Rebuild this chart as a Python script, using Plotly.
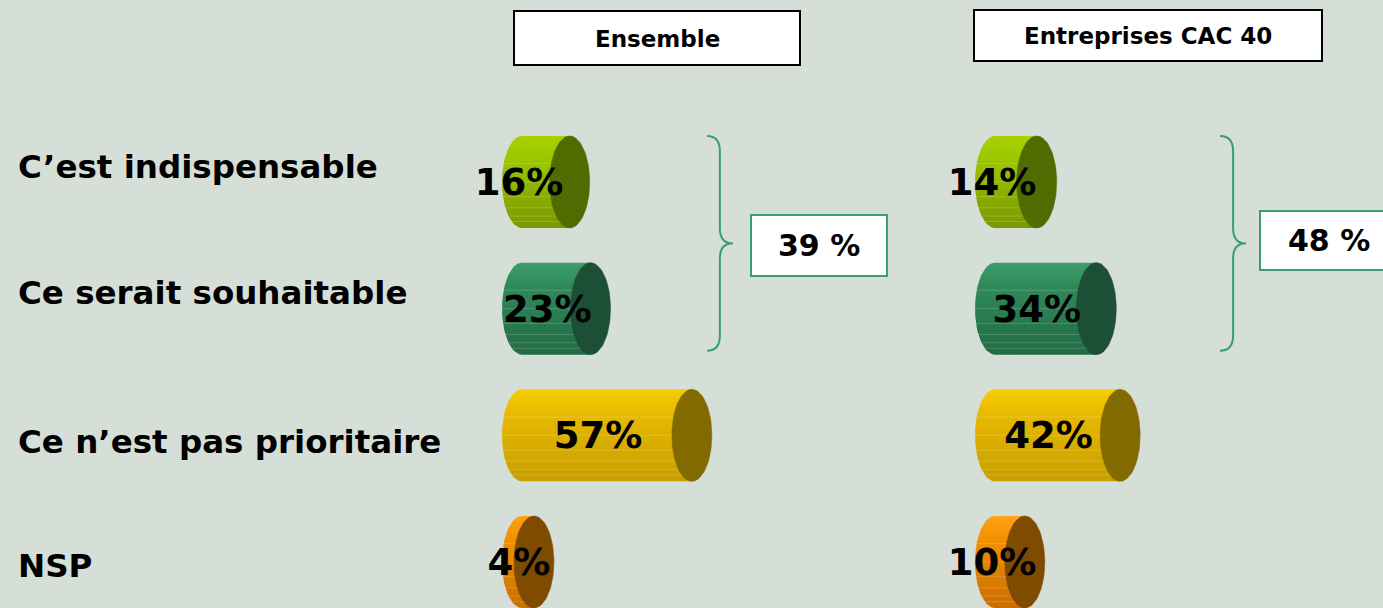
import numpy as np
import plotly.graph_objects as go

# ---------------- data ----------------
categories = ["C’est indispensable", "Ce serait souhaitable", "Ce n’est pas prioritaire", "NSP"]
ensemble = [16, 23, 57, 4]
cac40 = [14, 34, 42, 10]
panel_titles = ["Ensemble", "Entreprises CAC 40"]
group_totals = [39, 48]  # indispensable + souhaitable

# ---------------- styles ----------------
BG = "#D6DED8"
FONT = "DejaVu Sans"
body_colors = [  # (top, light, bottom) for the cylinder bodies
    ("#A9D000", "#9CC600", "#7A9800"),
    ("#3C9E6A", "#2F8A5A", "#236B45"),
    ("#F7CC00", "#E8BA00", "#C79E00"),
    ("#FFA214", "#F39000", "#C96F00"),
]
end_colors = ["#4F6C00", "#1D4F37", "#826A00", "#7E4B00"]
BRACE = "#3A9E6E"

W, H = 1383, 608
PX_PER_PCT = 2.98
ROW_PX = 126.67
ROW0_PX = 182
ZERO_L, ZERO_R = 522, 995
SPLIT = 0.62
A = 20 / PX_PER_PCT        # ellipse half-width (x units)
B = 46 / ROW_PX            # ellipse half-height (row units)

rows = list(range(len(categories)))

fig = go.Figure()


def add_panel(values, xa):
    t_half = np.linspace(-np.pi / 2, np.pi / 2, 40)
    t_full = np.linspace(0, 2 * np.pi, 80)
    for r, v in zip(rows, values):
        top, light, bot = body_colors[r]
        # body: left half-ellipse + straight sides
        bx = list(-A * np.cos(t_half)) + [v, v, 0]
        by = list(r + B * np.sin(t_half)) + [r + B, r - B, r - B]
        fig.add_trace(go.Scatter(
            x=bx, y=by, xaxis=xa, yaxis="y", mode="lines", line=dict(width=0),
            fill="toself",
            fillgradient=dict(type="vertical", start=r - B, stop=r + B,
                              colorscale=[[0, top], [0.25, light], [1, bot]]),
            hoverinfo="skip", showlegend=False))
        # subtle horizontal stripes on the body
        for f in (0.3, 0.5, 0.66, 0.78, 0.87, 0.93):
            yy = r - B + 2 * B * f
            fig.add_trace(go.Scatter(
                x=[-A * np.sqrt(max(0.0, 1 - ((yy - r) / B) ** 2)), v], y=[yy, yy],
                xaxis=xa, yaxis="y", mode="lines",
                line=dict(color="rgba(255,255,255,0.18)", width=1),
                hoverinfo="skip", showlegend=False))
        # end face
        fig.add_trace(go.Scatter(
            x=v + A * np.cos(t_full), y=r + B * np.sin(t_full), xaxis=xa, yaxis="y",
            mode="lines", line=dict(width=0.5, color=end_colors[r]), fill="toself",
            fillcolor=end_colors[r], hoverinfo="skip", showlegend=False))
    # value labels
    lx = [(v - 6) / 2 if v >= 20 else -1 for v in values]
    fig.add_trace(go.Scatter(
        x=lx, y=[r + 0.03 for r in rows], xaxis=xa, yaxis="y", mode="text",
        text=[f"{v}%" for v in values],
        textfont=dict(family=FONT, size=37, color="black", weight="bold"),
        textposition="middle center", cliponaxis=False,
        hoverinfo="skip", showlegend=False))


add_panel(ensemble, "x")
add_panel(cac40, "x2")

# ---------------- braces ----------------
def brace_path(x_end, x_stem, x_tip, yt, yb, r=0.12):
    ym = (yt + yb) / 2
    return (f"M {x_end},{yt} Q {x_stem},{yt} {x_stem},{yt + r} "
            f"L {x_stem},{ym - r} Q {x_stem},{ym} {x_tip},{ym} "
            f"Q {x_stem},{ym} {x_stem},{ym + r} "
            f"L {x_stem},{yb - r} Q {x_stem},{yb} {x_end},{yb}")

yt = rows[0] - B
yb = rows[1] + (350 - 308) / ROW_PX
shapes = [
    dict(type="path", xref="x", yref="y",
         path=brace_path(62.1, 66.4, 70.8, yt, yb), line=dict(color=BRACE, width=2)),
    dict(type="path", xref="x2", yref="y",
         path=brace_path(75.5, 79.9, 84.2, yt, yb), line=dict(color=BRACE, width=2)),
]

def pbox(x0, y0, x1, y1, color, width):
    return dict(type="rect", xref="paper", yref="paper",
                x0=x0 / W, x1=x1 / W, y0=1 - y1 / H, y1=1 - y0 / H,
                line=dict(color=color, width=width), fillcolor="white", layer="below")

shapes += [
    pbox(514, 11, 800, 65, "black", 2),
    pbox(974, 10, 1322, 61, "black", 2),
    pbox(751, 215, 887, 276, BRACE, 2),
    pbox(1260, 211, 1390, 270, BRACE, 2),
]

annotations = []
def ptext(txt, cx, cy, size, xanchor="center"):
    annotations.append(dict(text=txt, x=cx / W, y=1 - cy / H, xref="paper", yref="paper",
                            xanchor=xanchor, yanchor="middle", showarrow=False,
                            font=dict(family=FONT, size=size, color="black", weight="bold")))

ptext(panel_titles[0], 657, 39, 23)
ptext(panel_titles[1], 1148, 36, 23)
ptext(f"{group_totals[0]} %", 819, 246, 30)
ptext(f"{group_totals[1]} %", 1329, 241, 30)

label_dy = [-0.12, -0.12, 0.05, 0.03]
for r, c in zip(rows, categories):
    annotations.append(dict(text=c, x=16 / W, y=r + label_dy[r], xref="paper", yref="y",
                            xanchor="left", yanchor="middle", showarrow=False,
                            font=dict(family=FONT, size=32.5, color="black", weight="bold")))

ymin = -ROW0_PX / ROW_PX
ymax = rows[-1] + (H - (ROW0_PX + rows[-1] * ROW_PX)) / ROW_PX
splitpx = SPLIT * W

fig.update_layout(
    width=W, height=H, margin=dict(l=0, r=0, t=0, b=0),
    paper_bgcolor=BG, plot_bgcolor=BG, showlegend=False,
    xaxis=dict(domain=[0, SPLIT], range=[-ZERO_L / PX_PER_PCT, (splitpx - ZERO_L) / PX_PER_PCT],
               visible=False, fixedrange=True),
    xaxis2=dict(domain=[SPLIT, 1], range=[-(ZERO_R - splitpx) / PX_PER_PCT, (W - ZERO_R) / PX_PER_PCT],
                visible=False, fixedrange=True),
    yaxis=dict(range=[ymax, ymin], visible=False, fixedrange=True),
    shapes=shapes, annotations=annotations,
)

fig.write_html("out.html")
